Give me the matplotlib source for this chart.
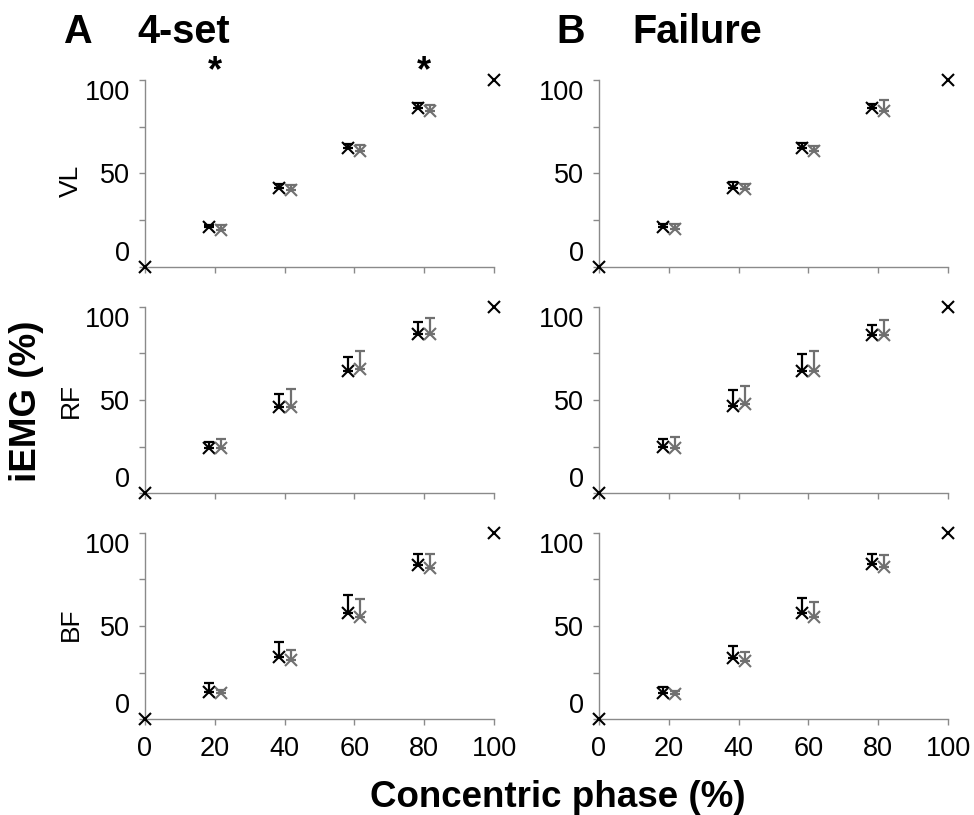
import numpy as np
import matplotlib
matplotlib.use("Agg")
import matplotlib.pyplot as plt

plt.rcParams['font.family'] = ['Liberation Sans', 'DejaVu Sans']

# ---- data ----
phase = np.array([20, 40, 60, 80])
x_ticks = [0, 20, 40, 60, 80, 100]
y_ticks = [0, 25, 50, 75, 100]
y_ticklabels = ['0', '', '50', '', '100']
muscles = ['VL', 'RF', 'BF']

# Panel A (4-set): black = first series, gray = second series
A_black = {'VL': [21.1, 42.3, 63.4, 85.2],
           'RF': [24.1, 46.1, 65.5, 85.2],
           'BF': [14.8, 33.2, 57.1, 82.7]}
A_black_err = {'VL': [1.0, 2.0, 2.3, 2.7],
               'RF': [3.2, 6.9, 7.7, 6.4],
               'BF': [4.5, 8.1, 9.5, 5.7]}
A_gray = {'VL': [19.6, 41.1, 62.1, 83.6],
          'RF': [24.1, 46.4, 66.4, 85.5],
          'BF': [13.9, 31.8, 55.0, 80.9]}
A_gray_err = {'VL': [2.7, 2.7, 3.0, 3.0],
              'RF': [5.0, 9.5, 9.9, 8.6],
              'BF': [1.8, 5.3, 9.6, 7.5]}

# Panel B (Failure)
B_black = {'VL': [21.3, 42.4, 63.5, 84.8],
           'RF': [24.6, 47.0, 65.7, 84.8],
           'BF': [14.3, 32.7, 57.1, 83.0]}
B_black_err = {'VL': [1.4, 2.7, 3.0, 2.3],
               'RF': [4.5, 8.5, 8.9, 5.6],
               'BF': [3.2, 6.6, 8.1, 5.4]}
B_gray = {'VL': [20.4, 41.5, 62.1, 83.5],
          'RF': [24.3, 47.9, 65.7, 85.0],
          'BF': [13.4, 31.3, 55.0, 81.8]}
B_gray_err = {'VL': [2.3, 2.7, 2.7, 5.8],
              'RF': [5.7, 9.6, 10.7, 7.9],
              'BF': [1.8, 4.8, 8.0, 6.2]}

end_x = [0, 100]
end_y = [0, 100]

star_x = [20, 80]
star_y = [104.6, 104.6]

# ---- figure ----
W, H = 974, 815
fig = plt.figure(figsize=(W / 100, H / 100), dpi=100)


def px(l, t, w, h):
    return [l / W, 1 - (t + h) / H, w / W, h / H]


row_tops = [80, 306.7, 532.7]
row_h = 186.7
row_label_shift = [8, 0, -2]  # px, downward
col_lefts = [145, 599]
col_w = 349

BLACK = '#000000'
GRAY = '#707070'
SPINE = '#8a8a8a'
off = 1.7

panels = [(A_black, A_black_err, A_gray, A_gray_err),
          (B_black, B_black_err, B_gray, B_gray_err)]

for ci, (blk, blk_e, gry, gry_e) in enumerate(panels):
    for ri, m in enumerate(muscles):
        ax = fig.add_axes(px(col_lefts[ci], row_tops[ri], col_w, row_h))
        ax.set_xlim(0, 100)
        ax.set_ylim(0, 100)
        for s in ['top', 'right']:
            ax.spines[s].set_visible(False)
        for s in ['left', 'bottom']:
            ax.spines[s].set_color(SPINE)
            ax.spines[s].set_linewidth(1.0)
        ax.set_yticks(y_ticks)
        ax.set_yticklabels(y_ticklabels)
        ax.set_xticks(x_ticks)
        if ri == 2:
            ax.set_xticklabels([str(v) for v in x_ticks])
        else:
            ax.set_xticklabels([])
        ax.tick_params(axis='both', direction='out', length=4, width=1.0,
                       color=SPINE, labelsize=19.5, labelcolor='black')
        ax.tick_params(axis='y', pad=6.5)
        ax.tick_params(axis='x', pad=8)
        ylabs = ax.get_yticklabels()
        ylabs[0].set_va('bottom')
        ylabs[-1].set_va('top')

        for vals, errs, col, dx in [(blk[m], blk_e[m], BLACK, -off),
                                    (gry[m], gry_e[m], GRAY, off)]:
            xs = phase + dx
            ys = np.array(vals)
            es = np.array(errs)
            ax.errorbar(xs, ys, yerr=[np.zeros_like(es), es], fmt='none',
                        ecolor=col, elinewidth=1.6, capsize=3.3, capthick=1.6,
                        clip_on=False, zorder=3)
            ax.plot(xs, ys, linestyle='none', marker='x', ms=9, mew=1.5,
                    color=col, clip_on=False, zorder=4)
        ax.plot(end_x, end_y, linestyle='none', marker='x', ms=9, mew=1.5,
                color=BLACK, clip_on=False, zorder=4)

        if ci == 0:
            yc = 1 - (row_tops[ri] + row_h / 2 + row_label_shift[ri]) / H
            fig.text(71 / W, yc, m, rotation=90, ha='center', va='center',
                     fontsize=19)
            if ri == 0:
                for sx, sy in zip(star_x, star_y):
                    ax.text(sx, sy, '*', ha='center', va='center',
                            fontsize=26, fontweight='bold', clip_on=False)

# titles
fig.text(63 / W, 1 - 43 / H, 'A', fontsize=28.5, fontweight='bold',
         ha='left', va='baseline')
fig.text(137 / W, 1 - 43 / H, '4-set', fontsize=28.5, fontweight='bold',
         ha='left', va='baseline')
fig.text(556 / W, 1 - 43 / H, 'B', fontsize=28.5, fontweight='bold',
         ha='left', va='baseline')
fig.text(632 / W, 1 - 43 / H, 'Failure', fontsize=28.5, fontweight='bold',
         ha='left', va='baseline')

fig.text(26 / W, 1 - 401 / H, 'iEMG (%)', rotation=90, fontsize=26.5,
         fontweight='bold', ha='center', va='center')
fig.text(558 / W, 1 - 807 / H, 'Concentric phase (%)', fontsize=26.5,
         fontweight='bold', ha='center', va='baseline')

fig.savefig('out.png', dpi=100)
